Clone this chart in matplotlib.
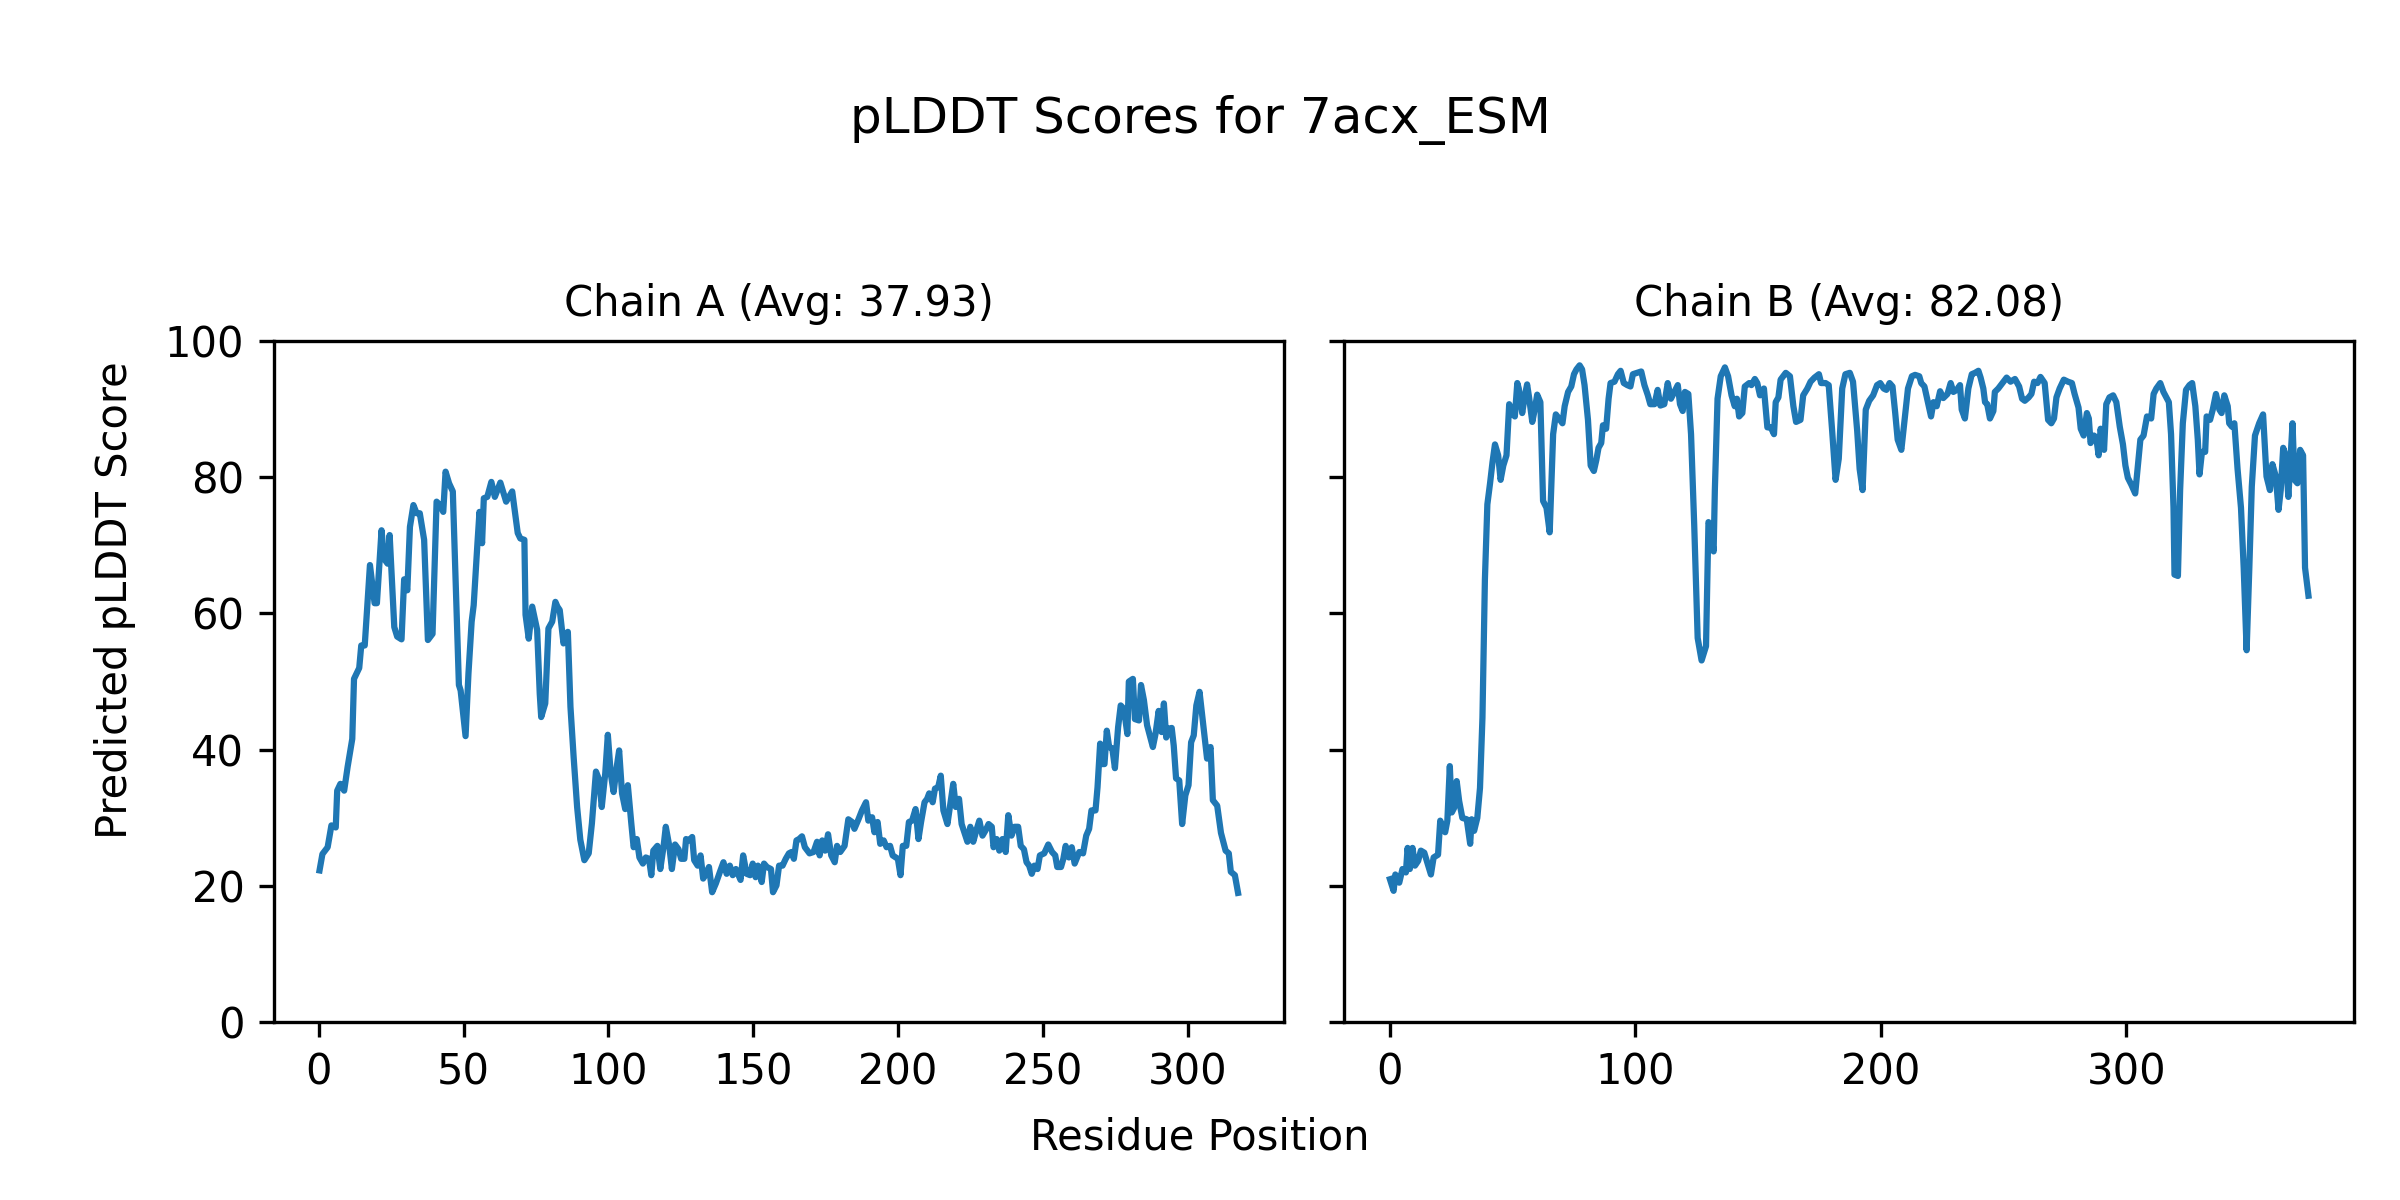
import matplotlib
matplotlib.use("Agg")
import matplotlib.pyplot as plt

# text
fig_title = "pLDDT Scores for 7acx_ESM"
chain_names = ["A", "B"]
chain_avgs = ["37.93", "82.08"]
x_label = "Residue Position"
y_label = "Predicted pLDDT Score"

# (residue position, pLDDT)
chain_a = [
    (0.3, 22.3), (1.3, 24.7), (3.1, 25.7), (4.4, 28.9), (5.9, 28.6), (6.4, 34.0), (7.5, 35.0),
    (8.8, 34.0), (10.0, 37.5), (11.6, 41.6), (12.2, 50.4), (14.0, 52.0), (14.7, 55.3), (15.9, 55.3),
    (17.7, 67.1), (19.3, 61.5), (20.1, 61.5), (21.7, 72.2), (22.6, 68.0), (23.8, 67.3), (24.5, 71.5),
    (26.1, 58.0), (27.1, 56.6), (28.6, 56.2), (29.5, 65.0), (30.6, 63.4), (31.5, 72.7), (32.7, 75.9),
    (33.8, 74.7), (34.9, 74.7), (36.4, 70.8), (37.7, 56.1), (39.3, 57.0), (40.7, 76.4), (41.9, 75.9),
    (43.0, 74.9), (43.8, 80.8), (45.0, 79.1), (46.3, 77.9), (48.4, 49.5), (49.0, 48.7), (50.7, 42.0),
    (51.7, 51.2), (52.8, 58.8), (53.5, 61.2), (54.8, 70.3), (55.5, 74.9), (56.4, 70.3), (57.0, 76.9),
    (58.2, 77.1), (59.6, 79.3), (60.8, 77.1), (62.7, 79.2), (64.7, 76.4), (66.8, 77.9), (68.7, 71.8),
    (69.6, 71.0), (71.0, 70.8), (71.4, 59.8), (72.5, 56.3), (73.7, 61.0), (75.4, 57.6), (76.3, 48.2),
    (76.8, 44.8), (78.2, 46.8), (79.3, 57.8), (80.6, 58.8), (81.7, 61.7), (82.4, 61.0), (83.2, 60.5),
    (84.5, 55.6), (86.0, 57.3), (86.9, 46.3), (88.0, 38.9), (89.2, 31.6), (90.3, 26.8), (91.7, 23.8),
    (93.2, 24.8), (94.3, 29.2), (95.7, 36.8), (96.8, 35.6), (97.7, 31.6), (98.9, 36.5), (99.8, 42.2),
    (100.8, 36.5), (101.8, 33.8), (102.7, 37.0), (103.7, 39.9), (104.7, 33.6), (105.8, 31.3),
    (106.7, 34.8), (107.9, 29.2), (108.7, 25.7), (109.8, 26.9), (110.7, 24.2), (111.9, 23.3),
    (112.9, 24.2), (114.0, 24.0), (114.8, 21.6), (115.5, 25.2), (116.9, 25.9), (117.9, 22.5),
    (119.0, 25.7), (119.8, 28.7), (121.0, 25.9), (121.9, 22.5), (123.0, 26.1), (124.2, 25.4),
    (125.1, 24.0), (126.2, 24.0), (126.8, 26.9), (127.9, 26.7), (128.9, 27.2), (129.6, 23.8),
    (130.8, 23.0), (131.8, 24.5), (132.7, 21.1), (133.7, 21.8), (134.7, 22.8), (135.8, 19.1),
    (137.1, 20.4), (138.5, 22.1), (139.7, 23.5), (140.8, 21.8), (141.9, 23.0), (142.9, 21.6),
    (144.0, 22.5), (145.6, 20.9), (146.5, 24.5), (147.7, 21.8), (148.9, 21.6), (149.8, 23.3),
    (150.8, 21.3), (151.6, 23.0), (152.9, 20.6), (153.7, 23.3), (154.7, 22.8), (156.1, 22.5),
    (156.8, 19.1), (158.0, 20.1), (158.9, 23.0), (160.1, 23.0), (161.2, 24.0), (162.3, 24.8),
    (163.2, 25.0), (164.0, 24.0), (164.9, 26.7), (165.8, 26.9), (166.8, 27.3), (167.8, 25.7),
    (169.4, 24.8), (170.8, 25.0), (172.0, 26.5), (172.9, 24.5), (173.8, 26.7), (174.8, 25.2),
    (175.8, 27.6), (176.9, 24.5), (178.1, 23.5), (178.9, 25.9), (180.0, 25.0), (181.5, 25.9),
    (182.8, 29.8), (184.1, 29.4), (184.9, 28.4), (186.3, 29.8), (187.5, 31.1), (188.9, 32.3),
    (189.7, 29.6), (191.0, 30.1), (191.8, 27.9), (192.9, 29.4), (193.8, 26.2), (195.0, 26.7),
    (196.0, 25.7), (197.2, 25.9), (198.1, 24.5), (199.9, 24.0), (200.8, 21.6), (201.6, 25.9),
    (202.8, 25.9), (203.7, 29.4), (204.8, 29.6), (206.0, 31.3), (207.0, 26.9), (207.9, 29.4),
    (209.1, 32.3), (210.0, 32.8), (210.7, 33.6), (211.9, 32.3), (212.7, 34.3), (213.8, 34.5),
    (214.7, 36.2), (215.6, 31.1), (217.0, 29.1), (217.9, 31.8), (219.0, 35.0), (219.9, 31.6),
    (221.0, 32.8), (221.9, 29.1), (223.9, 26.5), (224.9, 28.7), (225.9, 26.5), (227.0, 28.2),
    (228.0, 29.6), (229.1, 27.4), (230.2, 28.2), (231.2, 29.1), (232.3, 28.7), (232.9, 25.7),
    (234.0, 26.9), (234.9, 25.2), (236.0, 26.9), (237.1, 25.0), (238.0, 30.4), (239.1, 27.4),
    (240.2, 28.7), (241.4, 28.7), (242.3, 25.9), (243.4, 25.4), (244.3, 23.5), (245.2, 23.0),
    (246.1, 21.8), (247.0, 23.0), (248.1, 22.5), (248.9, 24.5), (250.4, 24.8), (251.8, 26.1),
    (253.1, 25.0), (254.2, 24.5), (254.9, 22.8), (256.2, 22.8), (257.0, 24.0), (257.8, 25.9),
    (258.9, 24.2), (259.9, 25.7), (260.9, 23.3), (262.5, 25.0), (263.8, 24.8), (264.9, 27.4),
    (265.9, 28.4), (266.7, 31.1), (268.1, 31.1), (268.8, 34.5), (269.7, 40.9), (270.4, 37.9),
    (271.2, 37.9), (272.0, 42.8), (272.8, 40.4), (273.9, 40.2), (274.8, 37.3), (275.9, 43.3),
    (276.8, 46.5), (277.9, 46.0), (279.1, 42.3), (279.6, 50.0), (281.0, 50.4), (281.7, 44.5),
    (283.1, 44.3), (283.8, 49.5), (284.8, 47.3), (285.9, 43.6), (287.9, 40.4), (288.8, 42.3),
    (289.9, 45.7), (290.9, 42.6), (291.7, 46.8), (292.5, 41.8), (293.4, 43.1), (294.4, 43.2),
    (295.1, 40.6), (295.9, 35.8), (297.0, 35.5), (298.0, 29.1), (299.1, 33.3), (300.2, 34.8),
    (301.1, 41.1), (302.0, 42.1), (302.9, 46.5), (304.0, 48.5), (305.1, 44.3), (306.6, 38.7),
    (307.8, 40.4), (308.6, 32.6), (310.1, 31.8), (311.4, 27.8), (313.0, 25.2), (314.1, 24.8),
    (314.8, 22.1), (316.2, 21.6), (317.3, 19.0),
]

chain_b = [
    (0.0, 21.0), (1.5, 19.3), (2.2, 21.7), (3.8, 20.5), (5.1, 22.5), (6.5, 22.0), (7.2, 25.6),
    (8.1, 22.5), (9.2, 25.6), (10.2, 23.0), (11.5, 23.7), (12.6, 25.2), (14.0, 24.9), (15.6, 23.0),
    (16.7, 21.7), (17.8, 24.2), (19.6, 24.6), (20.5, 29.6), (22.5, 27.9), (23.4, 29.6), (24.4, 37.6),
    (25.2, 30.8), (26.2, 31.5), (27.2, 35.4), (28.2, 32.5), (29.5, 30.0), (31.3, 29.8), (32.7, 26.2),
    (33.3, 29.8), (34.3, 28.1), (35.6, 30.0), (36.7, 34.4), (37.7, 44.7), (38.7, 65.0), (39.7, 76.0),
    (40.8, 79.1), (41.8, 82.2), (42.8, 84.8), (44.1, 83.2), (45.1, 79.6), (46.2, 81.7), (47.5, 83.2),
    (48.6, 90.7), (50.2, 89.2), (50.9, 88.9), (51.9, 93.8), (52.5, 93.0), (53.9, 89.4), (55.0, 92.0),
    (55.9, 93.6), (56.7, 91.7), (58.0, 88.1), (59.0, 89.9), (60.0, 92.1), (61.3, 91.0), (62.4, 76.5),
    (63.8, 75.5), (65.1, 71.9), (66.5, 86.3), (67.6, 89.2), (68.9, 88.6), (70.3, 87.9), (71.2, 90.4),
    (72.6, 92.5), (73.9, 93.3), (75.0, 95.1), (76.0, 95.8), (77.3, 96.4), (78.3, 95.8), (79.3, 93.5),
    (80.7, 88.4), (81.8, 81.7), (83.1, 80.9), (84.1, 82.5), (85.0, 84.3), (86.1, 85.0), (86.8, 87.6),
    (88.1, 87.1), (89.1, 91.5), (89.9, 93.8), (91.5, 94.0), (92.9, 95.1), (94.0, 95.6), (95.3, 93.8),
    (96.7, 93.5), (98.0, 93.3), (99.0, 95.1), (100.7, 95.3), (102.4, 95.5), (103.7, 93.5),
    (105.1, 92.0), (106.1, 90.7), (107.8, 90.7), (109.1, 92.8), (110.2, 90.5), (111.8, 90.7),
    (113.2, 93.8), (114.5, 91.5), (115.9, 92.5), (117.3, 93.5), (118.2, 90.7), (119.3, 89.7),
    (120.2, 92.5), (121.6, 92.2), (122.7, 86.3), (124.0, 72.9), (125.4, 56.4), (127.0, 53.1),
    (128.8, 55.2), (129.8, 73.4), (130.5, 72.9), (131.9, 69.1), (132.4, 78.1), (133.5, 91.5),
    (134.8, 94.8), (136.5, 96.1), (137.8, 94.8), (139.2, 92.0), (140.5, 90.4), (141.4, 91.5),
    (142.3, 88.9), (143.6, 89.4), (144.6, 93.3), (146.4, 93.8), (147.3, 93.5), (148.7, 94.4),
    (149.7, 93.8), (150.8, 92.0), (152.4, 93.0), (153.8, 87.3), (155.2, 87.3), (156.5, 86.3),
    (157.2, 91.0), (158.3, 91.7), (159.2, 94.3), (161.3, 95.3), (163.0, 94.8), (164.4, 90.4),
    (165.5, 88.1), (167.3, 88.4), (168.4, 92.0), (170.1, 93.0), (171.4, 94.0), (173.0, 94.6),
    (174.8, 95.1), (175.7, 93.8), (177.5, 93.8), (178.8, 93.5), (180.2, 86.8), (181.6, 79.6),
    (182.9, 82.7), (184.3, 93.0), (185.6, 95.1), (187.4, 95.3), (188.7, 94.0), (190.4, 86.8),
    (191.4, 81.2), (192.6, 78.1), (193.9, 89.9), (195.3, 91.2), (196.9, 92.0), (198.5, 93.5),
    (199.8, 93.8), (201.2, 93.0), (202.3, 92.8), (203.6, 93.8), (204.8, 93.3), (205.9, 89.4),
    (206.9, 85.5), (208.4, 84.0), (209.7, 88.4), (211.1, 93.0), (212.7, 94.8), (214.0, 95.0),
    (215.7, 94.8), (216.5, 93.8), (217.8, 93.3), (219.2, 91.0), (220.5, 88.9), (221.5, 91.0),
    (222.8, 90.4), (224.2, 92.6), (225.5, 91.6), (227.2, 92.2), (228.5, 93.8), (229.6, 92.5),
    (231.0, 92.8), (232.3, 93.5), (233.0, 89.9), (234.3, 88.6), (235.7, 93.0), (237.1, 95.1),
    (238.4, 95.3), (239.8, 95.6), (240.7, 94.6), (241.8, 93.0), (242.5, 91.0), (243.4, 90.7),
    (244.5, 88.6), (245.9, 89.7), (246.5, 92.5), (247.9, 93.0), (249.6, 93.8), (251.3, 94.6),
    (252.9, 94.0), (254.7, 94.4), (256.4, 93.3), (257.6, 91.5), (258.7, 91.2), (260.3, 91.7),
    (261.4, 92.2), (262.5, 94.0), (263.9, 93.8), (265.1, 94.7), (266.8, 93.8), (268.2, 88.4),
    (269.5, 87.9), (270.6, 88.6), (271.6, 91.7), (272.9, 93.0), (274.6, 94.3), (276.3, 94.0),
    (277.9, 93.8), (279.0, 92.2), (280.6, 90.2), (281.5, 87.1), (282.7, 86.1), (284.0, 89.4),
    (284.8, 88.6), (285.5, 85.0), (286.9, 86.1), (287.8, 85.8), (288.8, 83.2), (289.6, 87.1),
    (291.0, 84.0), (291.9, 90.7), (293.2, 91.7), (294.7, 92.0), (296.0, 91.0), (297.4, 87.4),
    (298.7, 84.8), (299.7, 81.7), (300.7, 79.9), (302.1, 78.9), (303.7, 77.6), (304.8, 81.7),
    (305.8, 85.5), (307.1, 86.1), (308.5, 88.9), (310.2, 88.6), (311.2, 92.2), (312.3, 93.0),
    (313.9, 93.8), (315.2, 92.5), (317.4, 91.0), (318.3, 86.3), (319.3, 75.5), (319.7, 65.7),
    (321.1, 65.5), (322.0, 78.1), (323.1, 87.9), (324.4, 92.8), (325.8, 93.5), (326.9, 93.8),
    (328.2, 90.4), (329.2, 85.5), (329.9, 80.4), (330.9, 83.7), (332.2, 83.7), (332.8, 88.9),
    (334.2, 88.4), (335.3, 89.9), (336.6, 92.2), (338.0, 89.9), (338.9, 89.4), (340.0, 92.0),
    (341.4, 90.4), (342.0, 87.9), (343.1, 87.4), (344.1, 87.9), (345.4, 81.2), (346.8, 75.5),
    (347.9, 66.7), (349.1, 54.6), (350.2, 66.7), (351.2, 78.6), (352.5, 86.1), (354.2, 87.9),
    (355.8, 89.2), (357.2, 80.1), (358.6, 78.1), (359.6, 81.9), (361.0, 80.1), (362.1, 75.2),
    (363.0, 78.1), (364.0, 84.3), (365.0, 83.2), (366.1, 77.1), (367.8, 87.9), (368.6, 79.6),
    (369.8, 79.1), (370.9, 84.0), (372.1, 83.2), (372.9, 66.7), (374.3, 62.6),
]

chains = [chain_a, chain_b]

fig, axes = plt.subplots(1, 2, figsize=(8, 4), sharey=True)

for ax, name, avg, pts in zip(axes, chain_names, chain_avgs, chains):
    pos = [p for p, _ in pts]
    score = [s for _, s in pts]
    ax.plot(pos, score, color="#1f77b4", linewidth=1.5)
    ax.set_title(f"Chain {name} (Avg: {avg})", fontsize=10)
    ax.set_ylim(0, 100)

# shared labels sit at the figure centre, not the axes centre
fig.suptitle(fig_title, fontsize=12, y=0.9, va="center")
fig.text(0.5, 0.0525, x_label, ha="center", va="center", fontsize=10)
fig.text(0.048, 0.5, y_label, ha="center", va="center", rotation=90, fontsize=10)

fig.subplots_adjust(left=0.114, right=0.981, bottom=0.148, top=0.716, wspace=0.0594)
fig.savefig("out.png", dpi=300)
